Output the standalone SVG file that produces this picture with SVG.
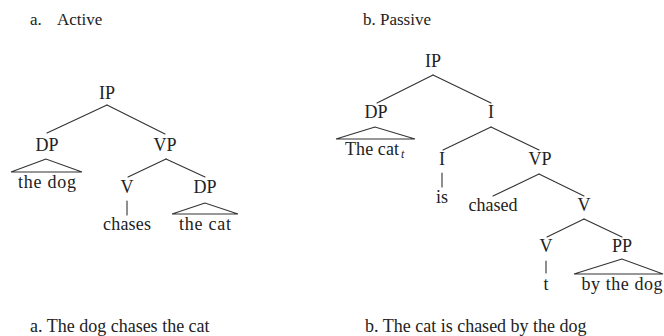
<svg xmlns="http://www.w3.org/2000/svg" width="664" height="336" viewBox="0 0 664 336">
  <style>
    .bg { fill: #ffffff; }
    text { font-family: 'Liberation Serif', 'DejaVu Serif', 'Times New Roman', serif; fill: #222; }
    .lbl { font-size: 18px; text-anchor: middle; }
    .head { font-size: 17px; }
    .cap { font-size: 18px; }
    .edge { stroke: #333; stroke-width: 1.1; fill: none; stroke-linecap: round; }
    .roof { stroke: #333; stroke-width: 1.1; fill: none; stroke-linejoin: miter; }
    .sub { font-style: italic; font-size: 12px; }
  </style>

  <rect class="bg" x="0" y="0" width="664" height="336"/>

  <!-- headings -->
  <g id="heading-a">
    <text class="head" x="30" y="25">a.</text>
    <text class="head" x="57" y="25">Active</text>
  </g>
  <g id="heading-b">
    <text class="head" x="363" y="25">b. Passive</text>
  </g>

  <!-- tree edges -->
  <g id="connectors">
    <!-- active -->
    <line class="edge" x1="107" y1="105" x2="47" y2="133"/>
    <line class="edge" x1="107" y1="105" x2="165" y2="134"/>
    <line class="edge" x1="166" y1="159" x2="128" y2="177"/>
    <line class="edge" x1="166" y1="159" x2="205" y2="177"/>
    <line class="edge" x1="127" y1="201" x2="127" y2="215"/>
    <!-- passive -->
    <line class="edge" x1="433" y1="75" x2="377" y2="103"/>
    <line class="edge" x1="433" y1="75" x2="491" y2="103"/>
    <line class="edge" x1="491" y1="127" x2="443" y2="150"/>
    <line class="edge" x1="491" y1="127" x2="539" y2="150"/>
    <line class="edge" x1="442" y1="173" x2="442" y2="187"/>
    <line class="edge" x1="539" y1="174" x2="493" y2="196"/>
    <line class="edge" x1="539" y1="174" x2="584" y2="196"/>
    <line class="edge" x1="584" y1="219" x2="547" y2="237"/>
    <line class="edge" x1="584" y1="219" x2="622" y2="237"/>
    <line class="edge" x1="546" y1="261" x2="546" y2="273"/>
  </g>

  <!-- active tree nodes -->
  <g id="a-IP"><text class="lbl" x="107" y="99">IP</text></g>
  <g id="a-DP"><text class="lbl" x="47" y="151">DP</text></g>
  <g id="a-VP"><text class="lbl" x="165" y="151">VP</text></g>
  <g id="a-the-dog">
    <polygon class="roof" points="46,159 11,172 82,172"/>
    <text class="lbl" x="47" y="188" textLength="58" lengthAdjust="spacing">the dog</text>
  </g>
  <g id="a-V"><text class="lbl" x="127" y="193">V</text></g>
  <g id="a-DP2"><text class="lbl" x="205" y="193">DP</text></g>
  <g id="a-chases"><text class="lbl" x="127" y="230" textLength="48" lengthAdjust="spacing">chases</text></g>
  <g id="a-the-cat">
    <polygon class="roof" points="205,203 172,214 238,214"/>
    <text class="lbl" x="205" y="230" textLength="52" lengthAdjust="spacing">the cat</text>
  </g>

  <!-- passive tree nodes -->
  <g id="b-IP"><text class="lbl" x="433" y="67">IP</text></g>
  <g id="b-DP"><text class="lbl" x="376" y="118">DP</text></g>
  <g id="b-I1"><text class="lbl" x="491" y="118">I</text></g>
  <g id="b-the-cat">
    <polygon class="roof" points="375,127 336,139 415,139"/>
    <text class="lbl" x="345" y="155" style="text-anchor:start"><tspan textLength="54" lengthAdjust="spacing">The cat</tspan><tspan class="sub" x="401" dy="3">t</tspan></text>
  </g>
  <g id="b-I2"><text class="lbl" x="442" y="165">I</text></g>
  <g id="b-VP"><text class="lbl" x="540" y="165">VP</text></g>
  <g id="b-is"><text class="lbl" x="442" y="203">is</text></g>
  <g id="b-chased"><text class="lbl" x="493" y="211" textLength="49" lengthAdjust="spacing">chased</text></g>
  <g id="b-V1"><text class="lbl" x="584" y="211">V</text></g>
  <g id="b-V2"><text class="lbl" x="546" y="252">V</text></g>
  <g id="b-PP"><text class="lbl" x="622" y="252">PP</text></g>
  <g id="b-t"><text class="lbl" x="546" y="290">t</text></g>
  <g id="b-by-the-dog">
    <polygon class="roof" points="622,259 574,274 663,274"/>
    <text class="lbl" x="622" y="290" textLength="81" lengthAdjust="spacing">by the dog</text>
  </g>

  <!-- captions -->
  <g id="caption-a"><text class="cap" x="30" y="332">a. The dog chases the cat</text></g>
  <g id="caption-b"><text class="cap" x="365" y="332">b. The cat is chased by the dog</text></g>
</svg>
